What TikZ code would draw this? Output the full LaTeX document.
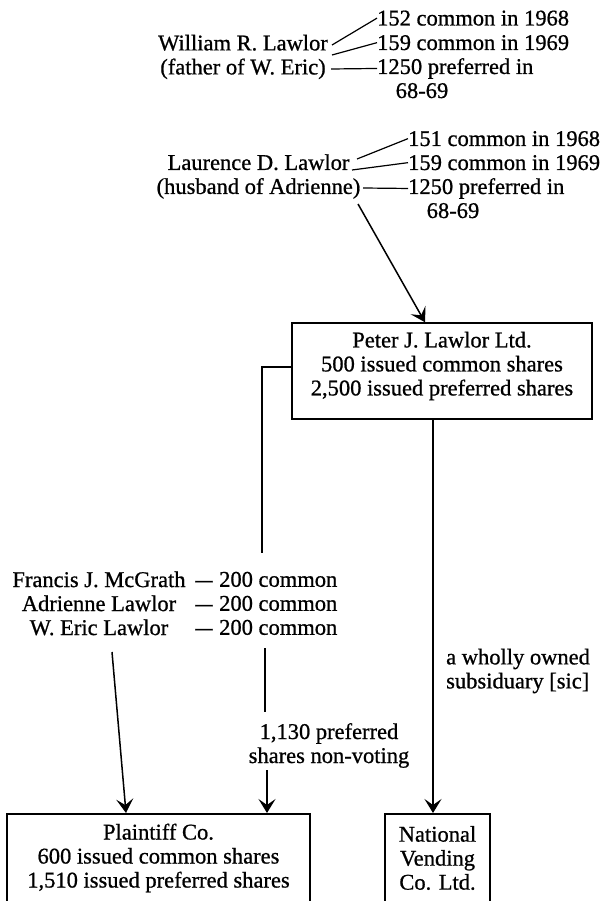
\documentclass[tikz,border=0pt]{standalone}
\usepackage{fontspec}
\setmainfont{Liberation Serif}[BoldFont={Liberation Serif}, BoldFeatures={FakeBold=0.8}]
\usetikzlibrary{arrows.meta}
\begin{document}
\begin{tikzpicture}[x=1pt,y=-1pt,
  fnt/.style={font=\fontsize{22.5pt}{24pt}\selectfont\bfseries},
  lbl/.style={fnt, inner sep=0pt},
  blk/.style={fnt, inner sep=0pt, align=center},
  boxshape/.style={draw, line width=1.5pt, inner sep=0pt},
  conn/.style={line width=1.5pt},
  arr/.style={conn, -{Stealth[length=14pt,width=17pt,inset=6pt]}},
  tie/.style={line width=1.2pt}]
\useasboundingbox (0,0) rectangle (600,901);
\fill[white] (0,0) rectangle (600,901);
\clip (0,0) rectangle (600,901);

% --- William R. Lawlor block
\node[blk] (william) at (243,57) {William R. Lawlor\\(father of W. Eric)};
\node[lbl, anchor=base west] (w1968) at (377,25.5) {152 common in 1968};
\node[lbl, anchor=base west] (w1969) at (377,50) {159 common in 1969};
\node[lbl, anchor=base west] (wpref) at (377,74) {1250 preferred in};
\node[lbl, anchor=base] (wyears) at (422,98) {68-69};
\coordinate (wa) at (332,45);
\coordinate (wb) at (332,55);
\coordinate (wc) at (331,69);
\draw[tie] (wa) -- (w1968.west);
\draw[tie] (wb) -- (w1969.west);
\draw[tie] (wc) -- (wpref.west);

% --- Laurence D. Lawlor block
\node[blk] (laurence) at (258.5,176.5) {Laurence D. Lawlor\\(husband of Adrienne)};
\node[lbl, anchor=base west] (l1968) at (408,146) {151 common in 1968};
\node[lbl, anchor=base west] (l1969) at (408,170) {159 common in 1969};
\node[lbl, anchor=base west] (lpref) at (408,194) {1250 preferred in};
\node[lbl, anchor=base] (lyears) at (453,218) {68-69};
\coordinate (la) at (357,159);
\coordinate (lb) at (352,170);
\coordinate (lc) at (363,188);
\draw[tie] (la) -- (l1968.west);
\draw[tie] (lb) -- (l1969.west);
\draw[tie] (lc) -- (lpref.west);
\coordinate (lstart) at (358,204);

% --- Peter J. Lawlor Ltd.
\node[boxshape, minimum width=300pt, minimum height=96pt] (peter) at (442,371) {};
\node[blk] (petertxt) at (442,366) {Peter J. Lawlor Ltd.\\500 issued common shares\\2,500 issued preferred shares};
\draw[arr] (lstart) -- ([xshift=-17pt]peter.north);

% --- shareholders of Plaintiff Co.
\node[blk] (holders) at (99,603.4) {Francis J. McGrath\\Adrienne Lawlor\\W. Eric Lawlor};
\node[blk] (dashes) at (204,603.4) {\vphantom{0}\scalebox{1.5}[1]{–}\\\scalebox{1.5}[1]{–}\\\scalebox{1.5}[1]{–}};
\node[blk, anchor=west] (shares) at (219,603.4) {200 common\\200 common\\200 common};

% --- bottom companies
\node[boxshape, anchor=north, minimum width=303pt, minimum height=110pt] (pbox) at (158.5,813) {};
\node[blk] (plaintiff) at (158.5,858) {Plaintiff Co.\\600 issued common shares\\1,510 issued preferred shares};
\node[boxshape, anchor=north, minimum width=105pt, minimum height=110pt] (nbox) at (437.5,813) {};
\node[blk] (national) at (437.5,858) {National\\Vending\\Co. Ltd.};

% --- connector labels
\node[blk, align=left, anchor=west] (wholly) at (446,671) {a wholly owned\\subsiduary [sic]};
\node[blk] (pref) at (329,745.5) {1,130 preferred\\shares non-voting};

% --- connectors
\coordinate (tipA) at ([xshift=-32.5pt]pbox.north);
\coordinate (tipB) at ([xshift=108.5pt]pbox.north);
\coordinate (tipC) at ([xshift=-4.5pt]nbox.north);
\coordinate (b1) at (262,553);
\coordinate (m1) at (265,648);
\coordinate (m2) at (265,712);
\coordinate (eric) at (112,652);
\draw[conn] ([yshift=4pt]peter.west) -| (b1);
\draw[conn] (m1) -- (m2);
\draw[arr] ([yshift=-2pt]tipB |- pref.south) -- (tipB);
\draw[arr] (eric) -- (tipA);
\draw[arr] (tipC |- peter.south) -- (tipC);
\end{tikzpicture}
\end{document}
